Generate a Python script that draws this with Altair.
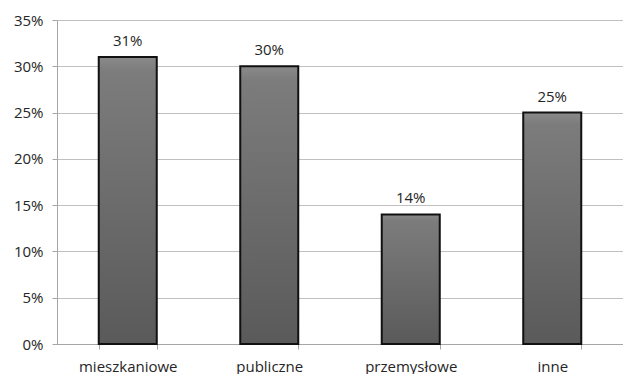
import altair as alt
import pandas as pd

categories = ["mieszkaniowe", "publiczne", "przemysłowe", "inne"]
values = [0.31, 0.30, 0.14, 0.25]
labels = ["31%", "30%", "14%", "25%"]

df = pd.DataFrame({"cat": categories, "val": values, "lab": labels})

FONT = "Open Sans"
TXT = "#262626"

x = alt.X("cat:N", sort=categories, title=None,
          scale=alt.Scale(paddingInner=0.59, paddingOuter=0.295),
          axis=alt.Axis(labelAngle=0, labelFontSize=15, labelColor=TXT,
                        labelFont=FONT, labelPadding=10, tickBand="extent",
                        tickColor="#a6a6a6", tickSize=5, domainColor="#a6a6a6",
                        grid=False))
y = alt.Y("val:Q", title=None,
          scale=alt.Scale(domain=[0, 0.35], nice=False),
          axis=alt.Axis(format=".0%", values=[0, .05, .1, .15, .2, .25, .3, .35],
                        labelFontSize=15, labelColor=TXT, labelFont=FONT,
                        labelPadding=9, tickColor="#a6a6a6", tickSize=5,
                        domainColor="#a6a6a6", gridColor="#c0c0c0"))

bars = alt.Chart(df).mark_bar(
    stroke="#111111", strokeWidth=2,
    color=alt.Gradient(gradient="linear", x1=0, y1=0, x2=0, y2=1,
                       stops=[alt.GradientStop(color="#8a8a8a", offset=0),
                              alt.GradientStop(color="#7c7c7c", offset=0.05),
                              alt.GradientStop(color="#5a5a5a", offset=1)])
).encode(x=x, y=y)

text = alt.Chart(df).mark_text(
    baseline="alphabetic", dy=-11, fontSize=15, font=FONT, color=TXT
).encode(x=alt.X("cat:N", sort=categories), y="val:Q", text="lab:N")

chart = (bars + text).properties(
    width=566, height=324,
    autosize=alt.AutoSizeParams(type="none"),
    padding={"left": 57, "top": 20, "right": 0, "bottom": 30},
).configure_view(stroke=None).configure(background="white")

chart.save("out.html", embed_options={"renderer": "svg", "actions": False})
